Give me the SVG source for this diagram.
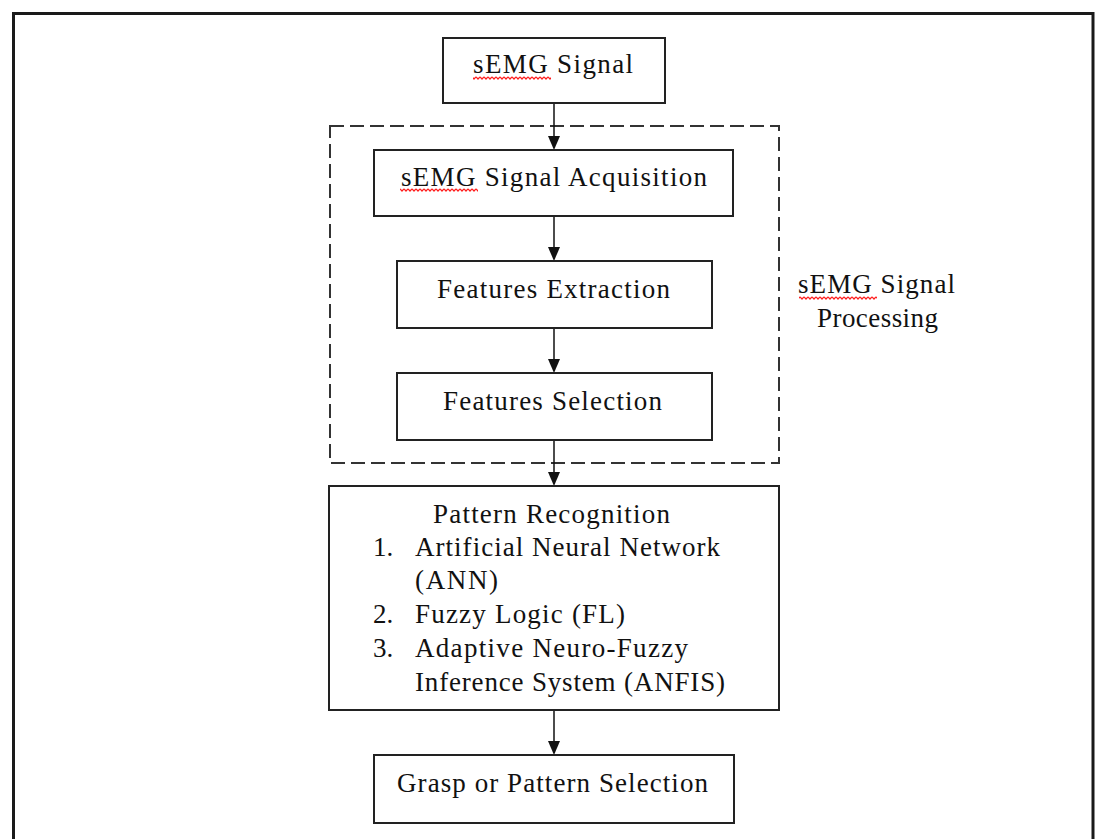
<svg xmlns="http://www.w3.org/2000/svg" width="1095" height="839" viewBox="0 0 1095 839">
<style>
.box{fill:#fff;stroke:#222;stroke-width:2}
.dash{fill:none;stroke:#333;stroke-width:2;stroke-dasharray:14 6}
.t{font-family:"Liberation Serif","Times New Roman",serif;font-size:27px;fill:#111}
.conn{stroke:#111;stroke-width:1.5;fill:none}
.head{fill:#111}
.sq{fill:url(#squig)}
</style>
<defs>
<pattern id="squig" width="4" height="4" patternUnits="userSpaceOnUse">
<path d="M0 0.8 L2 3 L4 0.8" fill="none" stroke="#ff1a1a" stroke-width="1.2"/>
</pattern>
</defs>
<rect width="1095" height="839" fill="#fff"/>
<path d="M13.5 850 V13.5 H1093 V850" fill="none" stroke="#1a1a1a" stroke-width="3"/>

<g id="processing-group">
<rect class="dash" x="330" y="126" width="449" height="337"/>
<text class="t" x="798" y="293" textLength="157" lengthAdjust="spacing">sEMG Signal</text>
<text class="t" x="817" y="327" textLength="121" lengthAdjust="spacing">Processing</text>
<rect class="sq" x="799" y="296" width="78" height="4"/>
</g>

<g id="connectors">
<line class="conn" x1="554" y1="103" x2="554" y2="137"/>
<polygon class="head" points="548,136 560,136 554,150"/>
<line class="conn" x1="554" y1="216" x2="554" y2="248"/>
<polygon class="head" points="548,247 560,247 554,261"/>
<line class="conn" x1="554" y1="328" x2="554" y2="360"/>
<polygon class="head" points="548,359 560,359 554,373"/>
<line class="conn" x1="554" y1="440" x2="554" y2="473"/>
<polygon class="head" points="548,472 560,472 554,486"/>
<line class="conn" x1="554" y1="710" x2="554" y2="742"/>
<polygon class="head" points="548,741 560,741 554,755"/>
</g>

<g id="semg-signal">
<rect class="box" x="443" y="38" width="222" height="65"/>
<text class="t" x="473" y="73" textLength="160" lengthAdjust="spacing">sEMG Signal</text>
<rect class="sq" x="473" y="76" width="78" height="4"/>
</g>

<g id="acquisition">
<rect class="box" x="374" y="150" width="359" height="66"/>
<text class="t" x="401" y="186" textLength="306" lengthAdjust="spacing">sEMG Signal Acquisition</text>
<rect class="sq" x="400" y="188" width="78" height="4"/>
</g>

<g id="extraction">
<rect class="box" x="397" y="261" width="315" height="67"/>
<text class="t" x="437" y="298" textLength="233" lengthAdjust="spacing">Features Extraction</text>
</g>

<g id="selection">
<rect class="box" x="397" y="373" width="315" height="67"/>
<text class="t" x="443" y="410" textLength="219" lengthAdjust="spacing">Features Selection</text>
</g>

<g id="pattern-recognition">
<rect class="box" x="329" y="486" width="450" height="224"/>
<text class="t" x="433" y="523" textLength="237" lengthAdjust="spacing">Pattern Recognition</text>
<text class="t" x="373" y="556">1.</text>
<text class="t" x="415" y="556" textLength="305" lengthAdjust="spacing">Artificial Neural Network</text>
<text class="t" x="415" y="589" textLength="83" lengthAdjust="spacing">(ANN)</text>
<text class="t" x="373" y="623">2.</text>
<text class="t" x="415" y="623" textLength="210" lengthAdjust="spacing">Fuzzy Logic (FL)</text>
<text class="t" x="373" y="657">3.</text>
<text class="t" x="415" y="657" textLength="273" lengthAdjust="spacing">Adaptive Neuro-Fuzzy</text>
<text class="t" x="415" y="691" textLength="310" lengthAdjust="spacing">Inference System (ANFIS)</text>
</g>

<g id="grasp">
<rect class="box" x="374" y="755" width="360" height="68"/>
<text class="t" x="397" y="792" textLength="311" lengthAdjust="spacing">Grasp or Pattern Selection</text>
</g>
</svg>
